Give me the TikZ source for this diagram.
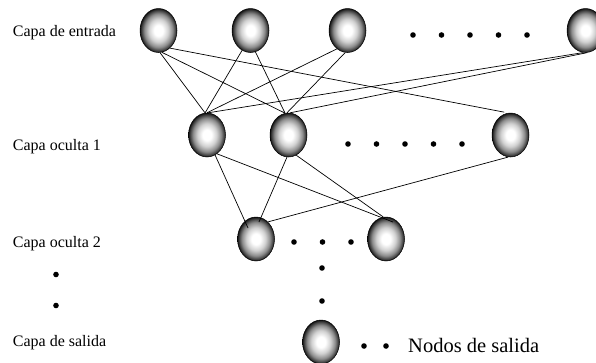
\documentclass[tikz,border=0pt]{standalone}
\usepackage{fontspec}
\setmainfont{Liberation Serif}
\usepackage{tikz}
\usetikzlibrary{positioning, shapes.geometric}

% gray ball look of the neurons
\pgfdeclareradialshading{ball}{\pgfpoint{0bp}{0bp}}{%
  color(0bp)=(white); color(6bp)=(white); color(13bp)=(black!18);
  color(19bp)=(black!45); color(23bp)=(black!75); color(25bp)=(black!92);
  color(50bp)=(black)}

\begin{document}
\begin{tikzpicture}[
        x=1pt, y=-1pt,
        neuron/.style={ellipse, draw, line width=0.5pt, shading=ball,
            minimum width=37pt, minimum height=44pt, inner sep=0pt},
        layer/.style={anchor=base west, inner sep=0pt,
            font=\fontsize{16}{18}\selectfont},
        link/.style={line width=0.7pt}
    ]
        \useasboundingbox (0,0) rectangle (596,362);

        % layer names
        \node[layer] (lin) at (12.7,36.7) {Capa de entrada};
        \node[layer] (lh1) at (12.7,150.7) {Capa oculta 1};
        \node[layer] (lh2) at (12.7,247.7) {Capa oculta 2};
        \node[layer] (lout) at (12.7,346.7) {Capa de salida};
        \fill (56,274.5) circle (2.8pt) (56,305.5) circle (2.8pt);

        % input layer
        \node[neuron] (i1) at (158.5,30.5) {};
        \node[neuron] (i2) at (250.5,30.5) {};
        \node[neuron] (i3) at (347.5,30.5) {};
        \node[neuron] (i4) at (585.5,30.5) {};
        \foreach \x in {413,441.5,470,498.5,527}
            \fill (\x,35) circle (2.8pt);

        % hidden layer 1
        \node[neuron] (h1a) at (207,135) {};
        \node[neuron] (h1b) at (288.5,135) {};
        \node[neuron] (h1c) at (510.5,135) {};
        \foreach \x in {348,376.5,405,433.5,462}
            \fill (\x,144) circle (2.8pt);

        % hidden layer 2
        \node[neuron] (h2a) at (256,239) {};
        \node[neuron] (h2b) at (386,239) {};
        \foreach \x in {294,322.5,351}
            \fill (\x,242) circle (2.8pt);
        \fill (322,268) circle (2.8pt) (322,301) circle (2.8pt);

        % output layer
        \node[neuron] (o1) at (321,342) {};
        \fill (364,346) circle (2.8pt) (386,346) circle (2.8pt);
        \node[anchor=base west, inner sep=0pt, font=\fontsize{20.5}{24}\selectfont]
            (lnodos) at (408,352) {Nodos de salida};

        % input -> hidden 1
        \draw[link] (i1.-86) -- (h1a.95);
        \draw[link] (i1.-81) -- (h1b.99);
        \draw[link, shorten >=4pt] (i1.-57) -- (h1c.96);
        \draw[link] (i2.-113) -- (h1a.95);
        \draw[link] (i2.-77) -- (h1b.99);
        \draw[link] (i3.-120) -- (h1a.90);
        \draw[link] (i3.-96) -- (h1b.94);
        \draw[link] (i4.-96) -- (h1a.87);
        \draw[link] (i4.-86) -- (h1b.86);

        % hidden 1 -> hidden 2
        \draw[link] (h1a.-68) -- ([shift={(-8,-11)}]h2a.center);
        \draw[link] (h1a.-62) -- ([shift={(7,-17)}]h2b.center);
        \draw[link] (h1b.-94) -- ([shift={(3,-17)}]h2a.center);
        \draw[link] (h1b.-69) -- (h2b.97);
        \draw[link] (h1c.-96) -- (h2a.55);

    \end{tikzpicture}
\end{document}
